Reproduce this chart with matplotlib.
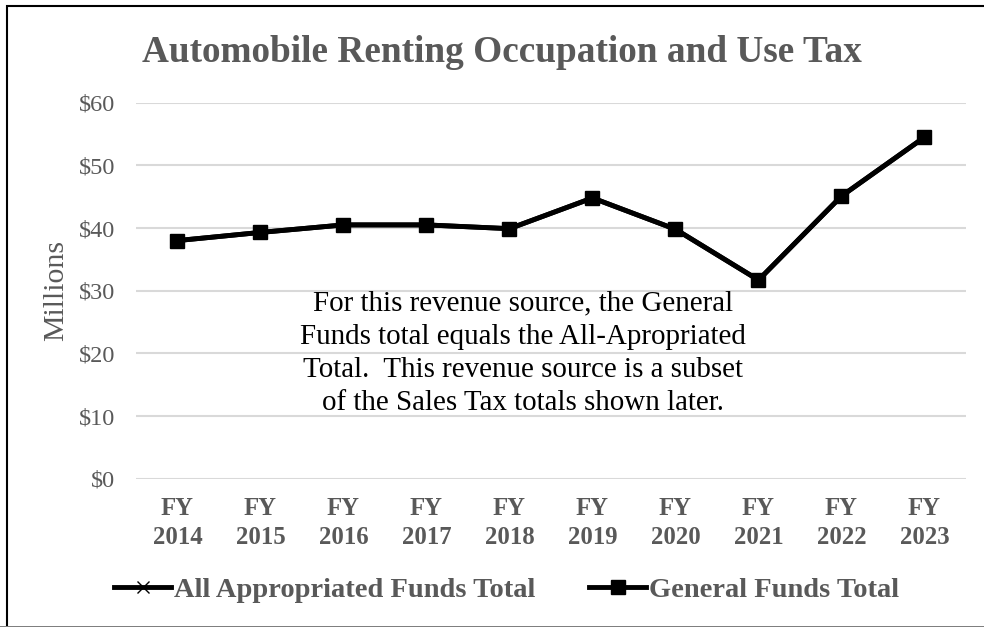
import matplotlib.pyplot as plt
from matplotlib.patches import Rectangle

years = ['FY\n2014', 'FY\n2015', 'FY\n2016', 'FY\n2017', 'FY\n2018',
         'FY\n2019', 'FY\n2020', 'FY\n2021', 'FY\n2022', 'FY\n2023']
all_approp = [38.0, 39.3, 40.5, 40.5, 39.9, 44.8, 39.8, 31.7, 45.1, 54.5]
general = [38.0, 39.3, 40.5, 40.5, 39.9, 44.8, 39.8, 31.7, 45.1, 54.5]
yticks = [0, 10, 20, 30, 40, 50, 60]

gray = '#595959'
plt.rcParams['font.family'] = ['Liberation Serif', 'DejaVu Serif']

fig = plt.figure(figsize=(9.84, 6.27), dpi=100)
ax = fig.add_axes([0.1382, 0.2365, 0.8435, 0.5997])

xs = list(range(len(years)))
ax.plot(xs, all_approp, color='black', lw=3.5, marker='x', ms=9, mew=1.0,
        label='All Appropriated Funds Total', zorder=3)
ax.plot(xs, general, color='black', lw=3.5, marker='s', ms=10,
        label='General Funds Total', zorder=4)

ax.set_xlim(-0.5, len(years) - 0.5)
ax.set_ylim(0, 60)
ax.set_yticks(yticks)
ax.set_yticklabels(['$' + str(v) for v in yticks])
ax.set_xticks(xs)
ax.set_xticklabels(years, fontweight='bold', fontsize=17.8, color=gray,
                   linespacing=1.37)
ax.tick_params(axis='y', labelsize=17.5, colors=gray, length=0, pad=15)
ax.tick_params(axis='x', length=0, pad=13)
ax.grid(axis='y', color='#d9d9d9', lw=1.5)
ax.set_axisbelow(True)
for s in ax.spines.values():
    s.set_visible(False)

ax.set_ylabel('Millions', fontsize=21.5, color=gray, labelpad=7)

fig.text(0.510, 1 - 62 / 627, 'Automobile Renting Occupation and Use Tax',
         ha='center', va='baseline', fontsize=26.8, fontweight='bold',
         color=gray)

ax.text(0.4662, 0.333, 'For this revenue source, the General\n'
        'Funds total equals the All-Apropriated\n'
        'Total.  This revenue source is a subset\n'
        'of the Sales Tax totals shown later.',
        transform=ax.transAxes, ha='center', va='center', fontsize=20.9,
        color='black', linespacing=1.36)

leg = fig.legend(loc='center', bbox_to_anchor=(0.515, 0.059), ncol=2,
                 frameon=False, handlelength=2.0, handletextpad=0.1,
                 columnspacing=1.9, prop={'size': 20.5, 'weight': 'bold'})
for t in leg.get_texts():
    t.set_color(gray)

fig.patches.append(Rectangle((7 / 984, -0.01), 1.1, 1 - 6 / 627 + 0.01,
                             transform=fig.transFigure, fill=False,
                             edgecolor='black', lw=1.5))
fig.patches.append(Rectangle((0, 0), 1, 1.5 / 627, transform=fig.transFigure,
                             facecolor='#7f7f7f', edgecolor='none'))

fig.savefig('out.png', dpi=100)
